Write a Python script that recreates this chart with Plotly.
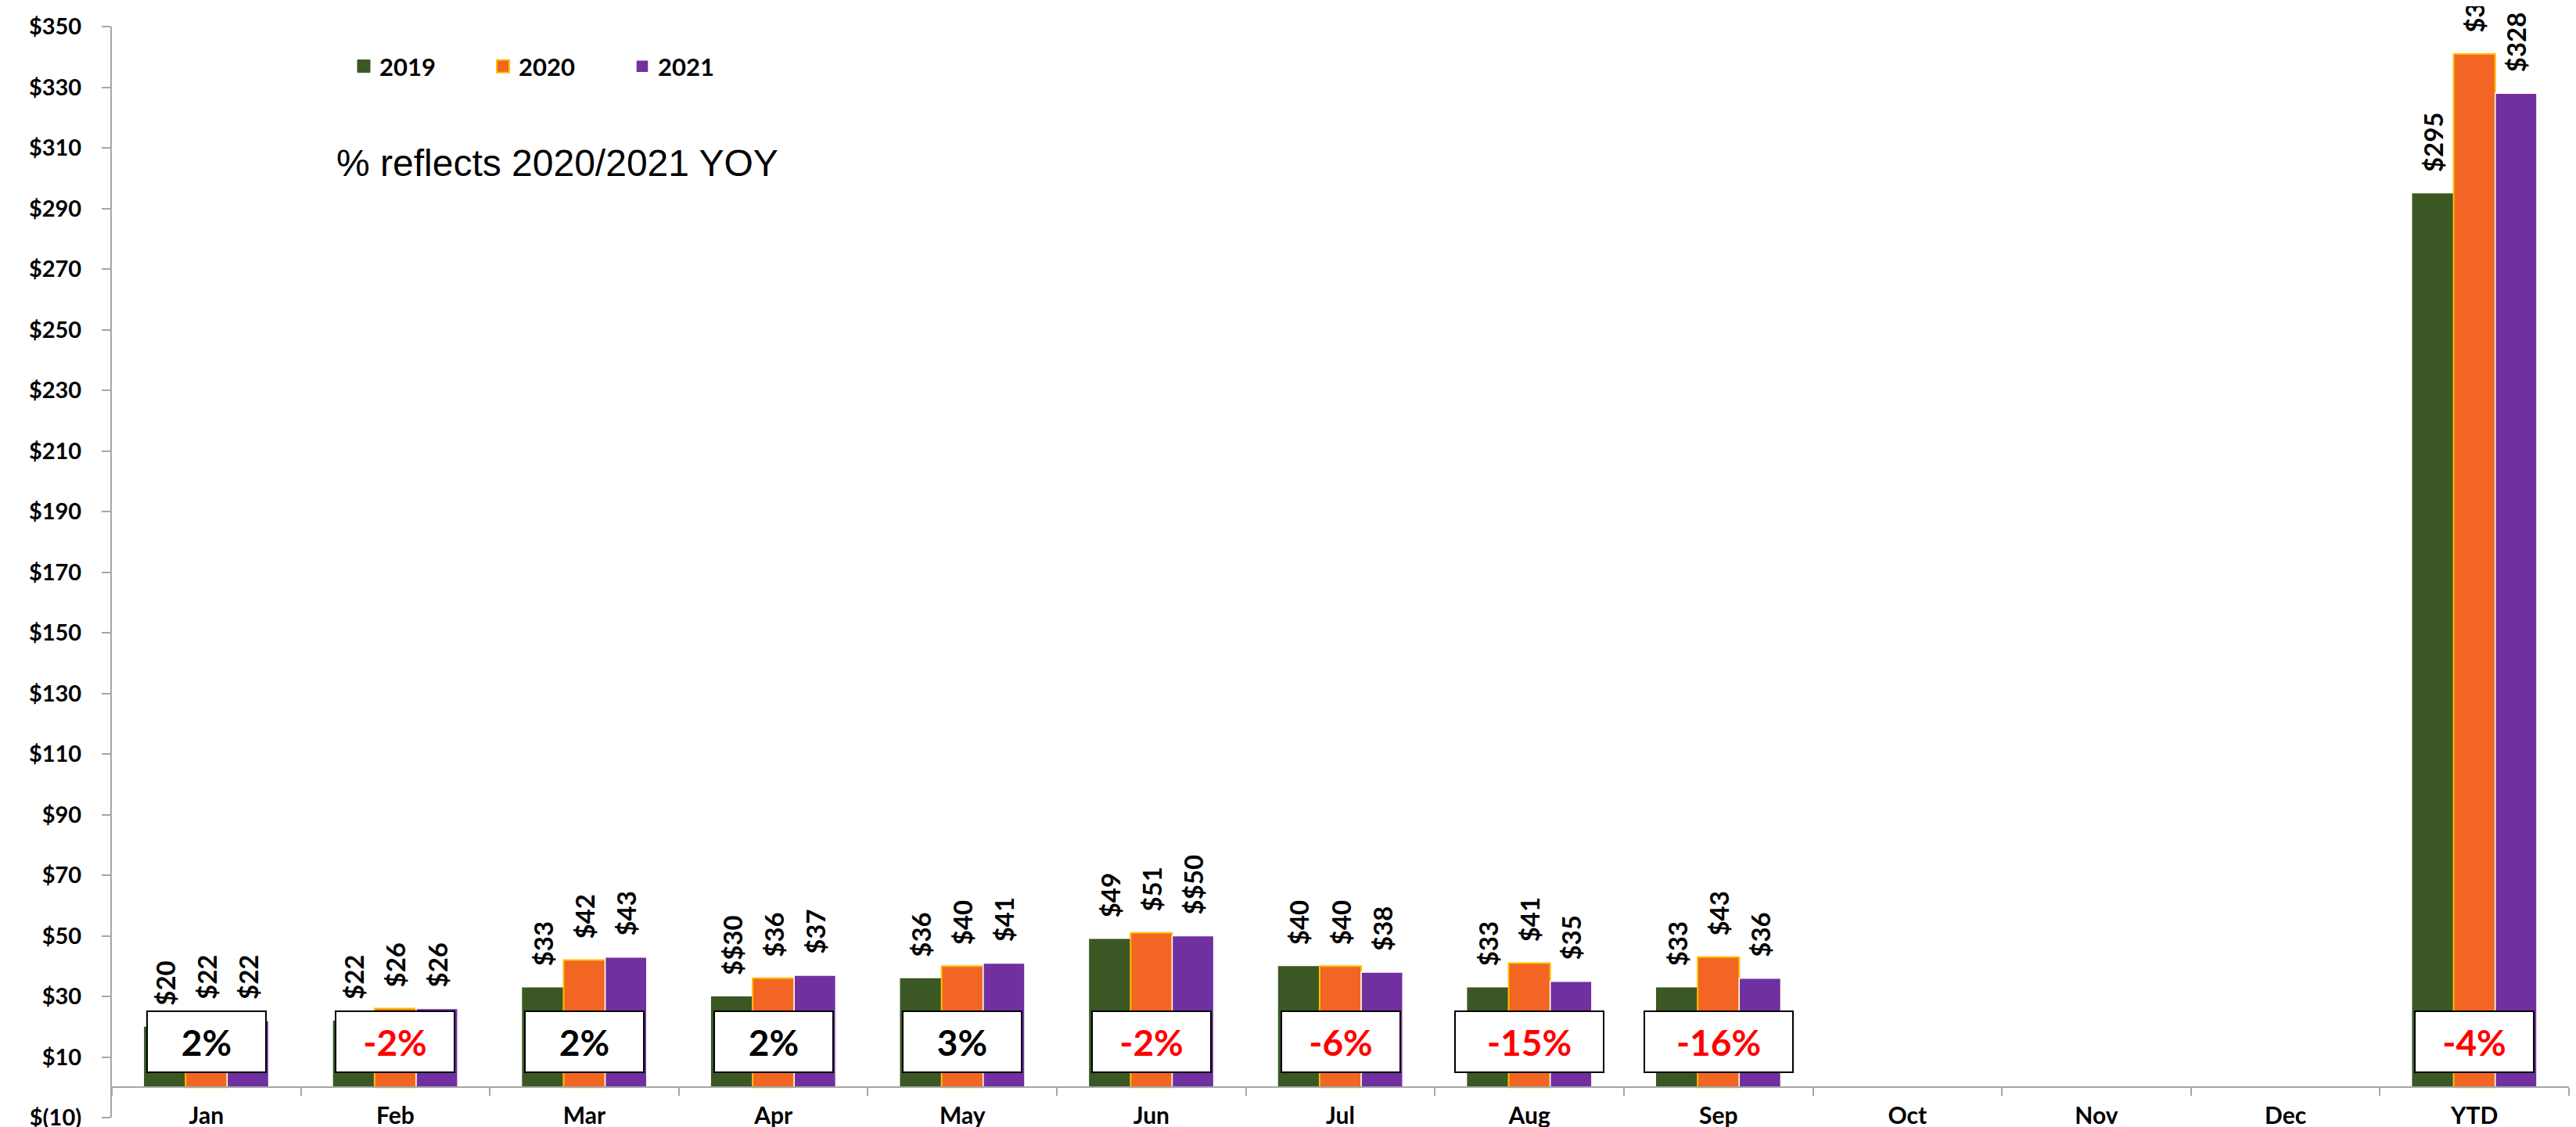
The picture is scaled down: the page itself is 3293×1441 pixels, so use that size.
import plotly.graph_objects as go

# ---- data ----
months = ["Jan", "Feb", "Mar", "Apr", "May", "Jun", "Jul", "Aug", "Sep",
          "Oct", "Nov", "Dec", "YTD"]
sales_2019 = [20, 22, 33, 30, 36, 49, 40, 33, 33, None, None, None, 295]
sales_2020 = [22, 26, 42, 36, 40, 51, 40, 41, 43, None, None, None, 341]
sales_2021 = [22, 26, 43, 37, 41, 50, 38, 35, 36, None, None, None, 328]
yoy_pct = ["2%", "-2%", "2%", "2%", "3%", "-2%", "-6%", "-15%", "-16%",
           None, None, None, "-4%"]
y_ticks = list(range(-10, 351, 20))


def money(v):
    return f"$({abs(v)})" if v < 0 else f"${v}"


AXIS_GREY = "#A6A6A6"
lato = dict(family="Lato", color="black", weight="bold")

series = [
    ("2019", sales_2019, "#3B5724", "#3B5724", 0),
    ("2020", sales_2020, "#F26522", "#FFC000", 2),
    ("2021", sales_2021, "#7030A0", "#FFFFFF", 1.5),
]

fig = go.Figure()
for name, vals, fill, edge, lw in series:
    fig.add_trace(go.Bar(
        x=months, y=vals, name=name, showlegend=False, legendgroup=name,
        marker=dict(color=fill, line=dict(color=edge, width=lw)),
        texttemplate="\u00a0\u00a0\u00a0$%{y}",
        textposition="outside", textangle=-90,
        textfont=dict(lato, size=33),
        constraintext="none", cliponaxis=False,
    ))

# legend keys (bigger squares than the default bar swatch)
for name, vals, fill, edge, lw in series:
    fig.add_trace(go.Scatter(
        x=[None], y=[None], mode="markers", name=name, legendgroup=name,
        marker=dict(symbol="square", size=18, color=fill,
                    line=dict(color=edge if lw else fill, width=max(lw, 1))),
    ))

# YOY boxes
for m, p in zip(months, yoy_pct):
    if p is None:
        continue
    fig.add_annotation(
        x=m, y=15, xref="x", yref="y", text=p, showarrow=False,
        font=dict(lato, size=46, color="red" if p.startswith("-") else "black"),
        bgcolor="white", bordercolor="black", borderwidth=2, borderpad=8,
        width=134 if len(p) <= 3 else 172, height=60, align="center",
    )

fig.add_annotation(
    x=(420 - 135) / 3141, y=1 - (200 - 26) / 1395, xref="paper", yref="paper",
    xanchor="left", yanchor="middle", showarrow=False,
    text="% reflects 2020/2021 YOY",
    font=dict(family="Liberation Sans", size=48, color="black"),
)

fig.update_layout(
    width=3293, height=1441,
    margin=dict(l=135, r=17, t=26, b=20),
    paper_bgcolor="white", plot_bgcolor="white",
    barmode="group", bargap=0.34, bargroupgap=0,
    showlegend=True,
    legend=dict(
        orientation="h", x=(437 - 135) / 3141, y=1 - (77 - 26) / 1395,
        xanchor="left", yanchor="middle",
        font=dict(lato, size=31), entrywidth=133, entrywidthmode="pixels",
        bgcolor="rgba(0,0,0,0)", traceorder="normal",
    ),
    xaxis=dict(
        type="category", range=[-0.5, 12.5],
        anchor="free", position=10 / 360,
        showline=True, linecolor=AXIS_GREY, linewidth=2,
        ticks="outside", tickson="boundaries", ticklen=10,
        tickcolor=AXIS_GREY, tickwidth=2,
        tickfont=dict(lato, size=30), ticklabelstandoff=10,
        showgrid=False, automargin=False,
    ),
    yaxis=dict(
        range=[-10, 350], tickvals=y_ticks, ticktext=[money(v) for v in y_ticks],
        showline=True, linecolor=AXIS_GREY, linewidth=2,
        ticks="outside", ticklen=11, tickcolor=AXIS_GREY, tickwidth=2,
        tickfont=dict(lato, size=29), ticklabelstandoff=20,
        showgrid=False, zeroline=False, automargin=False,
    ),
)

fig.write_html("out.html")
